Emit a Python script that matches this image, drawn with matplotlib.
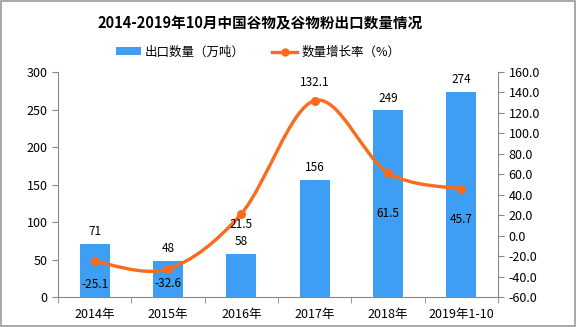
import numpy as np
import matplotlib
matplotlib.use("Agg")
import matplotlib.pyplot as plt
from matplotlib.path import Path
from matplotlib.patches import PathPatch, Patch
from matplotlib.lines import Line2D

plt.rcParams['font.family'] = ['Noto Sans CJK SC', 'DejaVu Sans']

categories = ['2014年', '2015年', '2016年', '2017年', '2018年', '2019年1-10']
volume = [71, 48, 58, 156, 249, 274]
growth = [-25.1, -32.6, 21.5, 132.1, 61.5, 45.7]

BLUE = '#3d9ef3'
ORANGE = '#fc6a1c'

fig = plt.figure(figsize=(5.76, 3.27), dpi=100)
ax = fig.add_axes([0.1007, 0.0917, 0.7639, 0.6881])
ax2 = ax.twinx()

x = np.arange(len(categories))
ax.bar(x, volume, width=0.41, color=BLUE, zorder=2)
ax.set_xlim(-0.5, len(categories) - 0.5)
ax.set_ylim(0, 300)
ax.set_yticks(range(0, 301, 50))
ax2.set_ylim(-60, 160)
ax2.set_yticks(range(-60, 161, 20))
ax2.set_yticklabels(['%.1f' % v for v in range(-60, 161, 20)])

for xi, v in zip(x, volume):
    ax.annotate(str(v), (xi, v), xytext=(0, 4), textcoords='offset points',
                ha='center', va='bottom', fontsize=8.5)

# smooth curve through points (Catmull-Rom -> cubic Bezier)
pts = np.column_stack([x, growth]).astype(float)
verts = [tuple(pts[0])]
codes = [Path.MOVETO]
n = len(pts)
for i in range(n - 1):
    p0 = pts[max(i - 1, 0)]
    p1 = pts[i]
    p2 = pts[i + 1]
    p3 = pts[min(i + 2, n - 1)]
    c1 = p1 + (p2 - p0) / 6.0
    c2 = p2 - (p3 - p1) / 6.0
    verts += [tuple(c1), tuple(c2), tuple(p2)]
    codes += [Path.CURVE4] * 3
ax2.add_patch(PathPatch(Path(verts, codes), facecolor='none', edgecolor=ORANGE,
                        lw=2.4, zorder=3))
ax2.plot(x, growth, 'o', color=ORANGE, ms=5.5, zorder=4)

offsets = [-12, -6, -3, 8, -25, -17]
for xi, v, off in zip(x, growth, offsets):
    ax2.annotate('%.1f' % v, (xi, v), xytext=(0, off), textcoords='offset points',
                 ha='center', va='bottom' if off > 0 else 'top', fontsize=8.5)

ax.set_xticks(x)
ax.set_xticklabels(categories)
ax.set_xticks(np.arange(-0.5, len(categories), 1), minor=True)
ax.tick_params(axis='x', which='major', length=0, pad=8, labelsize=9)
ax.tick_params(axis='x', which='minor', length=4, color='#888888', direction='out')
ax.tick_params(axis='y', labelsize=9, length=4, color='#888888')
ax2.tick_params(axis='y', labelsize=9, length=4, color='#888888')

for a in (ax, ax2):
    a.spines['top'].set_visible(False)
    a.spines['left'].set_color('#888888')
    a.spines['right'].set_color('#888888')
    a.spines['bottom'].set_color('#888888')
ax2.spines['left'].set_visible(False)
ax.spines['right'].set_visible(False)
ax2.spines['bottom'].set_visible(False)

fig.text(0.452, 0.93, '2014-2019年10月中国谷物及谷物粉出口数量情况',
         ha='center', va='center', fontsize=10.5, fontweight='bold')

handles = [Patch(facecolor=BLUE, edgecolor='none'),
           Line2D([0], [0], color=ORANGE, lw=2.4, marker='o', ms=5)]
fig.legend(handles, ['出口数量（万吨）', '数量增长率（%）'], loc='center',
           bbox_to_anchor=(0.448, 0.84), ncol=2, frameon=False, fontsize=9,
           handlelength=2.0, handleheight=0.6, handletextpad=0.3, columnspacing=2.2)

fig.patches.append(plt.Rectangle((0.001, 0.002), 0.997, 0.996, transform=fig.transFigure,
                                 fill=False, edgecolor='#999999', lw=1.2))

fig.savefig('out.png', dpi=100)
